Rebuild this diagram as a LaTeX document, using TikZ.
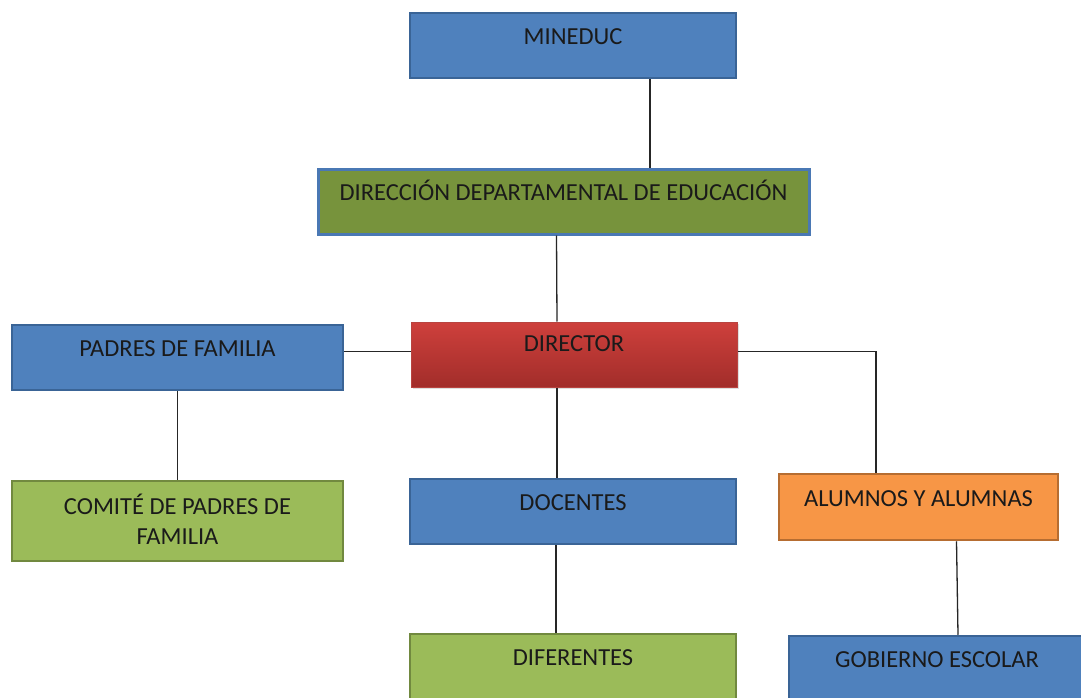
\documentclass[tikz,border=0pt]{standalone}
\usepackage{fontspec}
\setmainfont{Carlito}
\usetikzlibrary{shadows}
\definecolor{bluefill}{HTML}{4F81BD}
\definecolor{blueline}{HTML}{3A6496}
\definecolor{olivefill}{HTML}{77933C}
\definecolor{dirline}{HTML}{4A78B4}
\definecolor{greenfill}{HTML}{9BBB59}
\definecolor{greenline}{HTML}{71893F}
\definecolor{orangefill}{HTML}{F79646}
\definecolor{orangeline}{HTML}{B66D31}
\definecolor{redtop}{HTML}{CE403C}
\definecolor{redbot}{HTML}{A22D2A}
\definecolor{redline}{HTML}{B84440}
\definecolor{txt}{HTML}{1A1A1A}
\begin{document}
\begin{tikzpicture}[x=1pt,y=-1pt,
  box/.style={rectangle, draw, line width=2.5pt, inner sep=0pt, text=txt,
    font=\fontsize{24.5}{30}\selectfont, align=center,
    text height=31.5pt, text depth=33.5pt, minimum height=65pt},
  bluebox/.style={box, fill=bluefill, draw=blueline},
  greenbox/.style={box, fill=greenfill, draw=greenline},
  link/.style={draw=black!85, line width=1.3pt}]
\useasboundingbox (0,0) rectangle (1081,698);
\fill[white] (0,0) rectangle (1081,698);
\begin{scope}
\clip (0,0) rectangle (1081,698);
\node[bluebox, minimum width=326pt] (mineduc) at (573,45.5) {MINEDUC};
\node[box, fill=olivefill, draw=dirline, line width=3pt, minimum width=491pt] (dir) at (563.5,201.5) {DIRECCIÓN DEPARTAMENTAL DE EDUCACIÓN};
\node[box, draw=redline, line width=1pt, top color=redtop, bottom color=redbot,
  drop shadow={opacity=0.25, shadow xshift=2pt, shadow yshift=-2pt},
  text height=29pt, text depth=36pt, minimum width=326pt] (director) at (574,354.5) {DIRECTOR};
\node[bluebox, minimum width=331pt] (padres) at (177.5,357.5) {PADRES DE FAMILIA};
\node[greenbox, minimum width=331pt, minimum height=80pt, text height=63.5pt, text depth=16.5pt] (comite) at (177.5,521) {COMITÉ DE PADRES DE\\FAMILIA};
\node[bluebox, minimum width=326pt] (docentes) at (573,511.5) {DOCENTES};
\node[box, fill=orangefill, draw=orangeline, minimum width=279pt, minimum height=66pt] (alumnos) at (918.5,507) {ALUMNOS Y ALUMNAS};
\node[greenbox, minimum width=326pt] (diferentes) at (573,666.5) {DIFERENTES};
\node[bluebox, minimum width=296pt] (gobierno) at (937,668.5) {GOBIERNO ESCOLAR};
\end{scope}
\draw[link] ([xshift=77pt]mineduc.south) -- ([xshift=77pt]mineduc.south |- dir.north);
\draw[link] ([xshift=-7pt]dir.south) -- ([xshift=-17pt]director.north);
\draw[link] ([yshift=6pt]padres.east) -- ([yshift=3pt]director.west);
\draw[link] ([yshift=3pt]director.east) -| ([xshift=-42.5pt]alumnos.north);
\draw[link] (padres.south) -- (comite.north);
\draw[link] ([xshift=-17pt]director.south) -- ([xshift=-16pt]docentes.north);
\draw[link] ([xshift=-17pt]docentes.south) -- ([xshift=-17pt]diferentes.north);
\draw[link] ([xshift=38pt]alumnos.south) -- ([xshift=21pt]gobierno.north);
\end{tikzpicture}
\end{document}
